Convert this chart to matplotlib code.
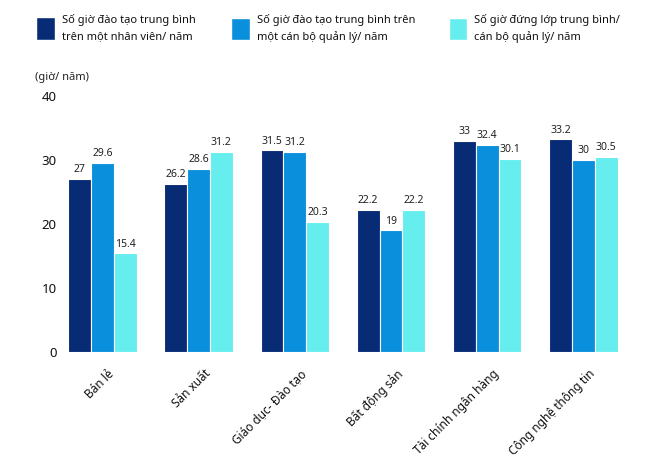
import numpy as np
import matplotlib
matplotlib.use("Agg")
import matplotlib.pyplot as plt
from matplotlib.patches import Patch
from matplotlib.transforms import ScaledTranslation

plt.rcParams['font.family'] = ['Noto Sans', 'DejaVu Sans']

# data
categories = ["Bán lẻ", "Sản xuất", "Giáo dục- Đào tạo", "Bất động sản",
              "Tài chính ngân hàng", "Công nghệ thông tin"]
per_employee = [27, 26.2, 31.5, 22.2, 33, 33.2]
per_manager = [29.6, 28.6, 31.2, 19, 32.4, 30]
teaching = [15.4, 31.2, 20.3, 22.2, 30.1, 30.5]
series_labels = ["Số giờ đào tạo trung bình\ntrên một nhân viên/ năm",
                 "Số giờ đào tạo trung bình trên\nmột cán bộ quản lý/ năm",
                 "Số giờ đứng lớp trung bình/\ncán bộ quản lý/ năm"]
colors = ["#072C75", "#0A8FDC", "#66EEEE"]
y_ticks = [0, 10, 20, 30, 40]

fig = plt.figure(figsize=(6.51, 4.59), dpi=100)
ax = fig.add_axes([0.0937, 0.233, 0.866, 0.558])

x = np.arange(len(categories))
width = 0.237
all_series = [per_employee, per_manager, teaching]
for i, (vals, col) in enumerate(zip(all_series, colors)):
    pos = x + (i - 1) * width
    bars = ax.bar(pos, vals, width, color=col, edgecolor="white", linewidth=0.8)
    for b, v in zip(bars, vals):
        ax.text(b.get_x() + b.get_width() / 2, v + 0.6, f"{v:g}",
                ha="center", va="bottom", fontsize=7.5, color="#222222")

ax.set_xlim(-0.43, len(categories) - 0.57)
ax.set_ylim(0, 40)
ax.set_yticks(y_ticks)
ax.tick_params(axis="y", length=0, labelsize=9.5, pad=3, labelcolor="#111111")
ax.tick_params(axis="x", length=0, labelsize=8.5, pad=11, labelcolor="#111111")
ax.set_xticks(x)
ax.set_xticklabels(categories, rotation=45, ha="right", rotation_mode="anchor")
shift = ScaledTranslation(0.05, 0, fig.dpi_scale_trans)
for lab in ax.get_xticklabels():
    lab.set_transform(lab.get_transform() + shift)
for s in ax.spines.values():
    s.set_visible(False)

fig.text(0.054, 0.832, "(giờ/ năm)", fontsize=8, color="#222222", va="center")

# one legend block per series, placed left to right like the original
legend_x = [0.056, 0.355, 0.689]
for lab, col, lx in zip(series_labels, colors, legend_x):
    leg = fig.legend([Patch(facecolor=col, edgecolor="white")], [lab],
                     loc="upper left", bbox_to_anchor=(lx, 0.97), frameon=False,
                     fontsize=8, handlelength=1.7, handleheight=2.7,
                     handletextpad=0.6, borderpad=0, borderaxespad=0)
    for t in leg.get_texts():
        t.set_linespacing(1.65)
        t.set_color("#111111")

fig.savefig("out.png", dpi=100)
